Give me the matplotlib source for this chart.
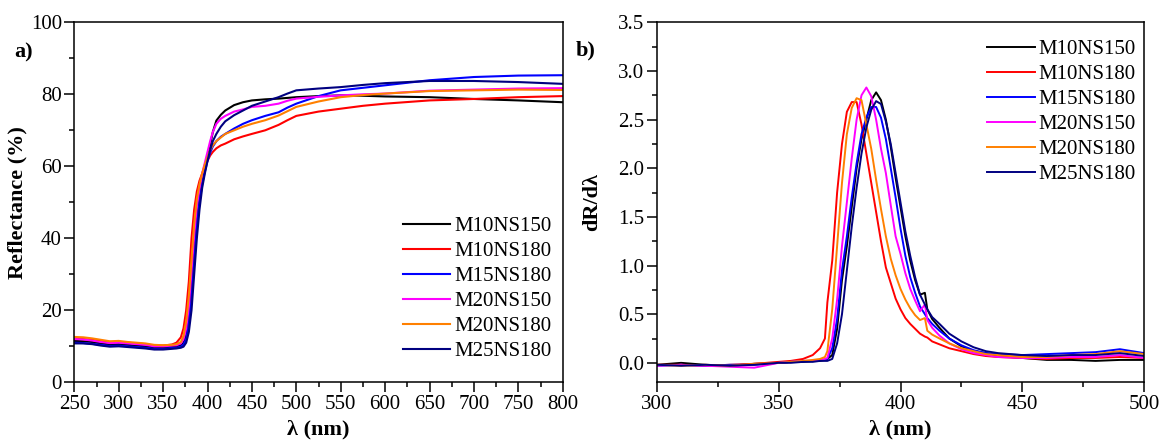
import matplotlib
matplotlib.use("Agg")
import matplotlib.pyplot as plt
from matplotlib.ticker import MultipleLocator, FormatStrFormatter

plt.rcParams['font.family'] = ['Liberation Serif', 'DejaVu Serif']

labels = ["M10NS150", "M10NS180", "M15NS180", "M20NS150", "M20NS180", "M25NS180"]
colors = ["#000000", "#FF0000", "#0000FF", "#FF00FF", "#FF8000", "#000080"]

# ---------- panel a: reflectance ----------
wl_a = [250, 260, 270, 280, 290, 300, 310, 320, 330, 340, 350, 360, 365, 370, 373, 376, 379,
        382, 385, 388, 391, 394, 397, 400, 403, 406, 410, 415, 420, 430, 440, 450, 465, 480,
        490, 500, 525, 550, 575, 600, 650, 700, 750, 800]

R_M10NS150 = [11.5, 11.4, 11.2, 10.8, 10.5, 10.6, 10.4, 10.2, 10.0, 9.7, 9.7, 9.9, 10.0, 10.3, 11, 13, 18,
              26, 36, 45, 51, 55.5, 59, 62.5, 66, 69.5, 72.7, 74.3, 75.5, 77, 77.8, 78.3, 78.6, 78.8,
              79, 79.2, 79.5, 79.7, 79.6, 79.4, 79.2, 78.7, 78.3, 77.8]
R_M10NS180 = [12.2, 12.0, 11.8, 11.4, 11.0, 11.2, 11.0, 10.8, 10.6, 10.2, 10.2, 10.5, 11.0, 12.5, 15, 20, 28,
              40, 48, 53, 56, 58, 60, 61.5, 63, 64, 65, 65.8, 66.3, 67.5, 68.3, 69, 70, 71.5,
              72.8, 74, 75.2, 76, 76.8, 77.4, 78.3, 78.7, 79.2, 79.5]
R_M15NS180 = [11.0, 10.9, 10.7, 10.4, 10.1, 10.2, 10.0, 9.8, 9.6, 9.3, 9.3, 9.5, 9.6, 9.9, 10.5, 12, 16,
              23, 33, 43, 50, 55, 58.5, 61.5, 63.8, 65.5, 67, 68.2, 69, 70.5, 71.8, 72.8, 74, 75,
              76.3, 77.4, 79.5, 81.1, 81.8, 82.5, 83.9, 84.8, 85.2, 85.3]
R_M20NS150 = [12.0, 11.9, 11.6, 11.2, 10.9, 11.0, 10.8, 10.6, 10.4, 10.0, 10.0, 10.2, 10.3, 10.8, 12, 15, 21,
              31, 41, 49, 54, 58, 61, 64, 67, 69.5, 71.8, 73.2, 74, 75.2, 75.8, 76.5, 76.8, 77.4,
              78.2, 78.8, 79.3, 79.7, 80, 80.2, 81, 81.3, 81.6, 81.7]
R_M20NS180 = [12.6, 12.5, 12.2, 11.8, 11.4, 11.5, 11.2, 11.0, 10.8, 10.4, 10.3, 10.4, 10.6, 11.2, 13, 17, 24,
              34, 44, 51, 55, 58, 60.5, 62.5, 64.5, 65.8, 67, 68, 69, 70, 71, 71.8, 72.8, 74.1,
              75.3, 76.5, 78, 79.2, 79.8, 80.2, 80.9, 81.1, 81.3, 81.2]
R_M25NS180 = [10.8, 10.8, 10.6, 10.2, 9.9, 10.0, 9.8, 9.6, 9.4, 9.1, 9.1, 9.3, 9.4, 9.6, 9.9, 11, 14,
              20, 30, 40, 48, 54, 58, 61.5, 64.5, 67, 69, 71, 72.5, 74.2, 75.5, 76.8, 78, 79.2,
              80.2, 81.1, 81.6, 82, 82.6, 83.1, 83.7, 83.7, 83.4, 82.9]

# ---------- panel b: derivative ----------
wl_b = [300, 310, 320, 330, 340, 350, 355, 360, 364, 367, 369, 370, 372, 374, 376, 378, 380, 382,
        384, 386, 388, 390, 392, 394, 396, 398, 400, 402, 404, 406, 408, 410, 411, 413, 416, 420,
        425, 430, 435, 440, 450, 460, 470, 480, 490, 500]

D_M10NS150 = [-0.02, 0.0, -0.02, -0.03, -0.01, 0.0, 0.01, 0.01, 0.02, 0.02, 0.03, 0.04, 0.08, 0.35, 0.85, 1.2,
              1.6, 2.0, 2.3, 2.5, 2.7, 2.78, 2.7, 2.5, 2.22, 1.9, 1.6, 1.3, 1.05, 0.85, 0.7, 0.72, 0.55,
              0.45, 0.36, 0.25, 0.17, 0.12, 0.1, 0.07, 0.05, 0.03, 0.03, 0.02, 0.03, 0.03]
D_M10NS180 = [-0.02, -0.02, -0.03, -0.02, -0.01, 0.01, 0.02, 0.04, 0.08, 0.15, 0.25, 0.62, 1.05, 1.75, 2.25, 2.58,
              2.68, 2.68, 2.45, 2.15, 1.85, 1.55, 1.25, 0.98, 0.82, 0.66, 0.55, 0.46, 0.40, 0.35, 0.30, 0.27,
              0.26, 0.22, 0.19, 0.15, 0.12, 0.09, 0.07, 0.06, 0.05, 0.04, 0.05, 0.05, 0.06, 0.05]
D_M15NS180 = [-0.03, -0.02, -0.03, -0.02, -0.02, 0.0, 0.01, 0.02, 0.02, 0.03, 0.03, 0.04, 0.15, 0.45, 0.95, 1.3,
              1.7, 2.05, 2.35, 2.52, 2.63, 2.63, 2.52, 2.3, 2.0, 1.7, 1.38, 1.1, 0.88, 0.72, 0.58, 0.5,
              0.46, 0.4, 0.33, 0.25, 0.18, 0.13, 0.1, 0.09, 0.08, 0.09, 0.1, 0.11, 0.14, 0.1]
D_M20NS150 = [-0.03, -0.02, -0.03, -0.04, -0.05, 0.0, 0.01, 0.02, 0.02, 0.03, 0.04, 0.05, 0.25, 0.65, 1.2, 1.65,
              2.1, 2.5, 2.75, 2.83, 2.74, 2.5, 2.2, 1.95, 1.62, 1.3, 1.12, 0.92, 0.76, 0.64, 0.53, 0.60,
              0.44, 0.36, 0.28, 0.2, 0.14, 0.1, 0.08, 0.06, 0.05, 0.05, 0.06, 0.06, 0.08, 0.05]
D_M20NS180 = [-0.02, -0.03, -0.02, -0.03, -0.01, 0.0, 0.01, 0.02, 0.03, 0.04, 0.06, 0.12, 0.55, 1.2, 1.85, 2.35,
              2.62, 2.72, 2.70, 2.45, 2.2, 1.88, 1.58, 1.3, 1.07, 0.9, 0.76, 0.65, 0.56, 0.49, 0.44, 0.46,
              0.33, 0.29, 0.25, 0.2, 0.15, 0.12, 0.09, 0.08, 0.06, 0.06, 0.08, 0.09, 0.12, 0.09]
D_M25NS180 = [-0.02, -0.03, -0.02, -0.03, -0.02, 0.0, 0.0, 0.01, 0.01, 0.02, 0.02, 0.02, 0.04, 0.2, 0.5, 0.95,
              1.4, 1.8, 2.15, 2.42, 2.6, 2.69, 2.66, 2.48, 2.25, 1.95, 1.65, 1.35, 1.1, 0.88, 0.7, 0.6,
              0.55, 0.47, 0.4, 0.3, 0.22, 0.16, 0.12, 0.1, 0.08, 0.07, 0.08, 0.08, 0.1, 0.07]

R_series = [R_M10NS150, R_M10NS180, R_M15NS180, R_M20NS150, R_M20NS180, R_M25NS180]
D_series = [D_M10NS150, D_M10NS180, D_M15NS180, D_M20NS150, D_M20NS180, D_M25NS180]

W, H = 1163, 441
fig = plt.figure(figsize=(W / 100, H / 100), dpi=100)
axA = fig.add_axes([74.3 / W, (H - 382.3) / H, 488.4 / W, 360 / H])
axB = fig.add_axes([656.7 / W, (H - 382.3) / H, 487.6 / W, 360 / H])

TICK_FS = 15
LAB_FS = 16

for ys, c, lab in zip(R_series, colors, labels):
    axA.plot(wl_a, ys, color=c, lw=1.5, label=lab)
for ys, c, lab in zip(D_series, colors, labels):
    axB.plot(wl_b, ys, color=c, lw=1.4, label=lab)

axA.set_xlim(250, 800)
axA.set_ylim(0, 100)
axA.xaxis.set_major_locator(MultipleLocator(50))
axA.xaxis.set_minor_locator(MultipleLocator(25))
axA.yaxis.set_major_locator(MultipleLocator(20))
axA.yaxis.set_minor_locator(MultipleLocator(10))
axA.set_xlabel("λ (nm)", fontsize=LAB_FS, fontweight='bold', labelpad=4)
axA.set_ylabel("Reflectance (%)", fontsize=LAB_FS, fontweight='bold')
axA.yaxis.set_label_coords(-0.095, 0.5)

axB.set_xlim(300, 500)
axB.set_ylim(-0.2, 3.5)
axB.xaxis.set_major_locator(MultipleLocator(50))
axB.xaxis.set_minor_locator(MultipleLocator(25))
axB.yaxis.set_major_locator(MultipleLocator(0.5))
axB.yaxis.set_minor_locator(MultipleLocator(0.25))
axB.yaxis.set_major_formatter(FormatStrFormatter('%.1f'))
axB.set_xlabel("λ (nm)", fontsize=LAB_FS, fontweight='bold', labelpad=4)
axB.set_ylabel("dR/dλ", fontsize=LAB_FS, fontweight='bold')
axB.yaxis.set_label_coords(-0.112, 0.5)

for ax in (axA, axB):
    for s in ax.spines.values():
        s.set_linewidth(1.1)
    ax.tick_params(which='major', direction='out', length=7, width=1.1, labelsize=TICK_FS, pad=2)
    ax.tick_params(which='minor', direction='out', length=3.5, width=1.1)
    ax.tick_params(top=False, right=False, which='both')

axA.legend(loc='lower right', bbox_to_anchor=(1 - 2.5 / 488.4, 12.5 / 360), frameon=False,
           fontsize=TICK_FS, handlelength=2.3, handletextpad=0.2, labelspacing=0.26,
           borderaxespad=0)
axB.legend(loc='upper right', bbox_to_anchor=(1.0, 1 - 9 / 360), frameon=False,
           fontsize=TICK_FS, handlelength=2.3, handletextpad=0.2, labelspacing=0.26,
           borderaxespad=0)

fig.text(14 / W, 1 - 52 / H, "a)", fontsize=LAB_FS, fontweight='bold', va='center', ha='left')
fig.text(576 / W, 1 - 50 / H, "b)", fontsize=LAB_FS, fontweight='bold', va='center', ha='left')

fig.savefig("out.png", dpi=100)
